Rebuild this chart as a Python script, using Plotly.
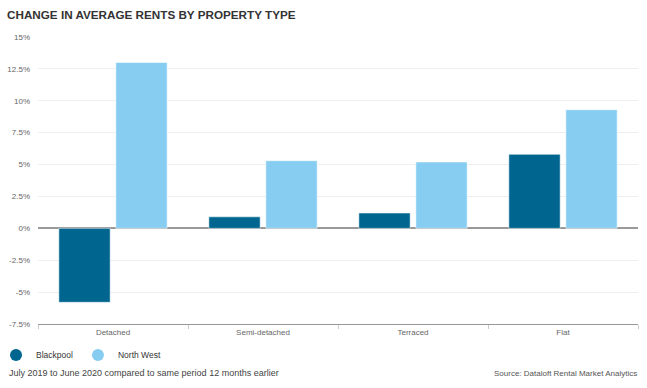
import plotly.graph_objects as go

categories = ["Detached", "Semi-detached", "Terraced", "Flat"]
blackpool = [-5.8, 0.9, 1.2, 5.8]
north_west = [13.0, 5.3, 5.2, 9.3]
tick_vals = [-7.5, -5, -2.5, 0, 2.5, 5, 7.5, 10, 12.5, 15]
tick_text = ["-7.5%", "-5%", "-2.5%", "0%", "2.5%", "5%", "7.5%", "10%", "12.5%", "15%"]

c_bp = "#00668f"
c_nw = "#87cdf1"
font = "Liberation Sans, Arial, sans-serif"

W, H = 647, 388
ML, MR, MT, MB = 38, 9, 37, 64
plot_w = W - ML - MR
plot_h = H - MT - MB


def px_to_paper_x(px):
    return (px - ML) / plot_w


def px_to_paper_y(py):
    return (H - MB - py) / plot_h


fig = go.Figure()
fig.add_trace(go.Bar(x=categories, y=blackpool, name="Blackpool", marker_color=c_bp,
                     marker_line=dict(color="rgba(255,255,255,0.5)", width=1), showlegend=False))
fig.add_trace(go.Bar(x=categories, y=north_west, name="North West", marker_color=c_nw,
                     marker_line=dict(color="rgba(255,255,255,0.5)", width=1), showlegend=False))
# legend entries with circle markers
fig.add_trace(go.Scatter(x=[None], y=[None], mode="markers", name="Blackpool",
                         marker=dict(color=c_bp, size=8, symbol="circle")))
fig.add_trace(go.Scatter(x=[None], y=[None], mode="markers", name="North West",
                         marker=dict(color=c_nw, size=8, symbol="circle")))

fig.update_layout(
    template="none",
    width=W, height=H,
    margin=dict(l=ML, r=MR, t=MT, b=MB, autoexpand=False),
    paper_bgcolor="white", plot_bgcolor="white",
    font=dict(family=font, size=8, color="#666666"),
    barmode="group", bargap=0.24, bargroupgap=0.1,
    title=dict(text="<b>CHANGE IN AVERAGE RENTS BY PROPERTY TYPE</b>",
               x=7 / W, xref="container", xanchor="left",
               y=1 - 11 / H, yref="container", yanchor="top",
               pad=dict(l=0, t=0, r=0, b=0),
               font=dict(family=font, size=11.7, color="#333333")),
    showlegend=True,
    legend=dict(orientation="h", x=px_to_paper_x(-4), xanchor="left",
                y=px_to_paper_y(355), yanchor="middle",
                font=dict(family=font, size=8.5, color="#333333"),
                itemsizing="constant", traceorder="normal", bgcolor="rgba(0,0,0,0)"),
    xaxis=dict(showgrid=False, showline=True, linecolor="#999999", linewidth=1,
               ticks="outside", ticklen=4, tickcolor="#cccccc", tickson="boundaries",
               tickfont=dict(size=8, color="#666666"), fixedrange=True, automargin=False,
               zeroline=False),
    yaxis=dict(range=[-7.5, 15], tickvals=tick_vals, ticktext=tick_text,
               showgrid=True, gridcolor="#eeeeee", gridwidth=1,
               zeroline=True, zerolinecolor="#999999", zerolinewidth=1.5,
               showline=False, tickfont=dict(size=8, color="#666666"), ticks="",
               ticklabelstandoff=7, fixedrange=True, automargin=False),
)

fig.add_annotation(text="July 2019 to June 2020 compared to same period 12 months earlier",
                   x=px_to_paper_x(7), xref="paper", xanchor="left",
                   y=px_to_paper_y(373), yref="paper", yanchor="middle", showarrow=False,
                   font=dict(family=font, size=9, color="#444444"))
fig.add_annotation(text="Source: Dataloft Rental Market Analytics",
                   x=px_to_paper_x(639), xref="paper", xanchor="right",
                   y=px_to_paper_y(373), yref="paper", yanchor="middle", showarrow=False,
                   font=dict(family=font, size=8, color="#555555"))

fig.write_html("out.html", config={"displayModeBar": False},
               post_script="document.body.style.margin='0';")
